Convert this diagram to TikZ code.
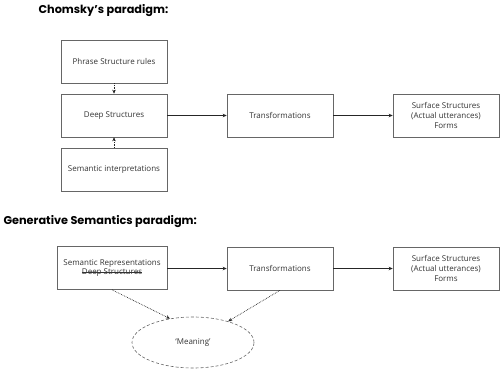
\documentclass[tikz,border=0pt]{standalone}
\usepackage{fontspec}
\setmainfont{Open Sans}
\newfontfamily\titlefont{Poppins}
\usetikzlibrary{arrows.meta,shapes.geometric}
\definecolor{txt}{HTML}{333333}
\definecolor{edge}{HTML}{666666}
\newcommand\strikeout[1]{\setbox0\hbox{#1}\rlap{\usebox0}\rule[0.3em]{\wd0}{0.5pt}}
\begin{document}
\begin{tikzpicture}[x=1pt,y=-1pt,
  box/.style={draw=edge,line width=0.6pt,minimum width=106pt,minimum height=43pt,align=center,text=txt,font=\fontsize{8}{9.7}\selectfont,inner sep=1pt},
  title/.style={anchor=west,font=\titlefont\bfseries\fontsize{11.3}{13}\selectfont},
  solidarrow/.style={draw=black!85,line width=0.8pt,-{Stealth[length=4pt,width=3.5pt]}},
  dotarrow/.style={draw=black!85,line width=0.7pt,densely dotted,-{Stealth[length=4pt,width=3.5pt]}}]
\useasboundingbox (0,0) rectangle (500,369);
\node[title] (t1) at (35,11) {Chomsky’s paradigm:};
\node[title] (t2) at (0,222) {Generative Semantics paradigm:};
\node[box] (ps) at (114,61.5) {Phrase Structure rules};
\node[box] (ds) at (114,115.5) {Deep Structures};
\node[box] (si) at (114,169.5) {Semantic interpretations};
\node[box] (tr1) at (280,115.5) {Transformations};
\node[box] (ss1) at (446,115.5) {Surface Structures\\(Actual utterances)\\Forms};
\node[box,minimum width=110pt] (sr) at (112,268) {Semantic Representations\\\strikeout{Deep Structures}};
\node[box] (tr2) at (280,268.5) {Transformations};
\node[box] (ss2) at (446,268.5) {Surface Structures\\(Actual utterances)\\Forms};
\node[ellipse,draw=edge,line width=0.6pt,densely dashed,minimum width=122pt,minimum height=51pt,text=txt,font=\fontsize{8}{9.7}\selectfont] (me) at (193,342.5) {‘Meaning’};
\draw[solidarrow] (ds) -- (tr1);
\draw[solidarrow] (tr1) -- (ss1);
\draw[dotarrow] (ps) -- (ds);
\draw[dotarrow] (si) -- (ds);
\draw[solidarrow] (sr.east |- tr2.west) -- (tr2.west);
\draw[solidarrow] (tr2) -- (ss2);
\draw[dotarrow] (sr.south) -- (me.134);
\draw[dotarrow] (tr2.south) -- (me.31);
\end{tikzpicture}
\end{document}
